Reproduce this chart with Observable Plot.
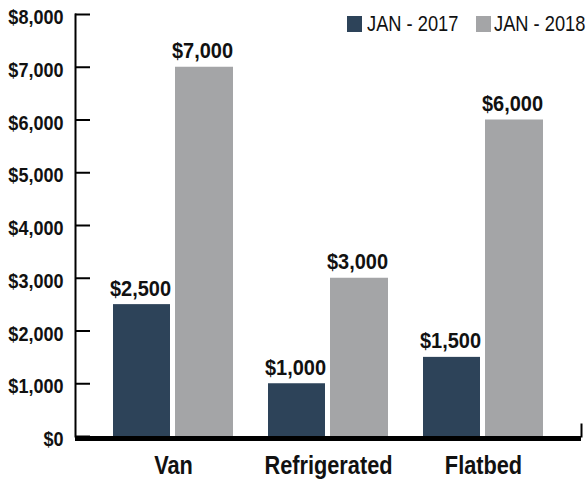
<!DOCTYPE html>
<html>
<head>
<meta charset="utf-8">
<script src="https://cdn.jsdelivr.net/npm/d3@7"></script>
<script src="https://cdn.jsdelivr.net/npm/@observablehq/plot@0.6"></script>
<style>
  html, body { margin: 0; padding: 0; background: #fff; }
  #wrap { position: relative; width: 588px; height: 481px; overflow: hidden; font-family: "Liberation Sans", Arial, sans-serif; }
  .item { position: absolute; top: 16px; height: 16px; }
  .sw { position: absolute; left: 0; top: 0; width: 15px; height: 16px; }
  .lt { position: absolute; left: 20px; top: -4px; font-size: 22px; line-height: 24px; color: #111; white-space: nowrap; transform: scaleX(0.83); transform-origin: 0 0; }
</style>
</head>
<body>
<div id="wrap"></div>
<script>
const categories = ["Van", "Refrigerated", "Flatbed"];
const series = ["JAN - 2017", "JAN - 2018"];
const values2017 = [2500, 1000, 1500];
const values2018 = [7000, 3000, 6000];
const yTicks = [0, 1000, 2000, 3000, 4000, 5000, 6000, 7000, 8000];
const colors = ["#2d4359", "#a4a5a7"];

const data2017 = categories.map((c, i) => ({cat: c, value: values2017[i]}));
const data2018 = categories.map((c, i) => ({cat: c, value: values2018[i]}));
const fmt = d => "$" + d3.format(",")(d);
const FONT = "Liberation Sans, Arial, sans-serif";

const chart = Plot.plot({
  width: 588,
  height: 481,
  marginLeft: 75,
  marginRight: 7,
  marginTop: 14,
  marginBottom: 45,
  style: {fontFamily: FONT, color: "#111", background: "white"},
  x: {domain: categories, paddingInner: 0.226, paddingOuter: 0.245, label: null},
  y: {domain: [0, 8000], label: null},
  marks: [
    Plot.ruleY([0], {stroke: "#000", strokeWidth: 5, dy: 2}),
    Plot.frame({anchor: "right", insetTop: 410, stroke: "#000", strokeWidth: 2}),
    Plot.barY(data2017, {x: "cat", y: "value", fill: colors[0], insetRight: 63, insetLeft: 0}),
    Plot.barY(data2018, {x: "cat", y: "value", fill: colors[1], insetLeft: 62, insetRight: 0}),
    Plot.text(data2017, {x: "cat", y: "value", text: d => fmt(d.value), dx: -33, dy: -9, lineAnchor: "bottom", fontSize: 21.5, fontWeight: "bold", fill: "#111", className: "sq95"}),
    Plot.text(data2018, {x: "cat", y: "value", text: d => fmt(d.value), dx: 29, dy: -9, lineAnchor: "bottom", fontSize: 21.5, fontWeight: "bold", fill: "#111", className: "sq95"}),
    Plot.frame({anchor: "left", stroke: "#000", strokeWidth: 2}),
    Plot.axisY({ticks: yTicks, tickSize: 15, dx: 15, tickFormat: () => "", stroke: "#000", strokeWidth: 2}),
    Plot.axisY({ticks: yTicks, tickSize: 0, tickPadding: 12, dy: 3, tickFormat: fmt, fontSize: 20.5, fontWeight: "bold", fill: "#111", className: "sq90"}),
    Plot.axisX({tickSize: 0, tickPadding: 20, fontSize: 25, fontWeight: "bold", fill: "#111", className: "sq87"})
  ]
});

// condense the bold labels horizontally around their anchor points
[["sq95", 0.93], ["sq90", 0.88], ["sq87", 0.87]].forEach(([cls, s]) => {
  chart.querySelectorAll("." + cls + " text").forEach(t => {
    const tr = t.getAttribute("transform") || "";
    t.setAttribute("transform", tr + ` scale(${s},1)`);
  });
});

const wrap = document.getElementById("wrap");
wrap.appendChild(chart);
const legendLeft = [347, 476];
series.forEach((s, i) => {
  const item = document.createElement("div");
  item.className = "item";
  item.style.left = legendLeft[i] + "px";
  const sw = document.createElement("span");
  sw.className = "sw";
  sw.style.background = colors[i];
  const lt = document.createElement("span");
  lt.className = "lt";
  lt.textContent = s;
  if (i === 1) lt.style.left = "18px";
  item.appendChild(sw);
  item.appendChild(lt);
  wrap.appendChild(item);
});
</script>
</body>
</html>
